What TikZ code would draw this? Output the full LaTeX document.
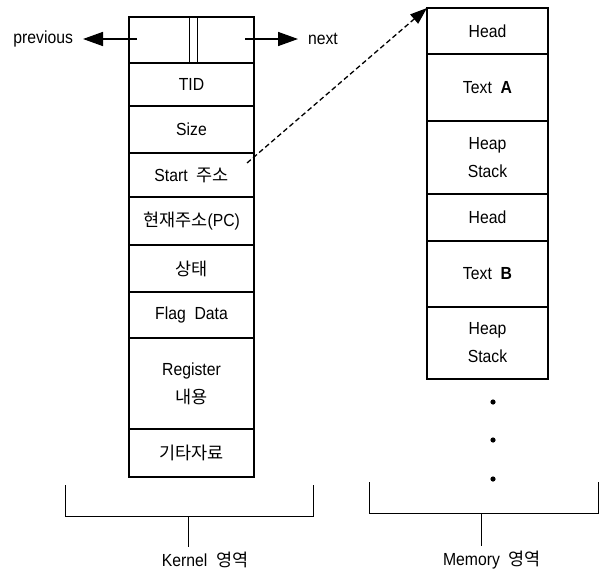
\documentclass[tikz,border=0pt]{standalone}
\usepackage{fontspec}
\setmainfont{Liberation Sans}[FakeStretch=0.9]
\newfontfamily\krfont{Noto Sans CJK KR}
\newcommand{\kr}[1]{{\krfont #1}}
\usetikzlibrary{arrows.meta,positioning}

\begin{document}
\begin{tikzpicture}[x=1pt,y=-1pt,
    cell/.style={draw, line width=1.5pt, minimum width=125pt, inner sep=0pt,
      outer sep=0pt, align=center, font=\fontsize{17.5}{28}\selectfont},
    mcell/.style={cell, minimum width=121pt},
    lbl/.style={font=\fontsize{17.5}{20}\selectfont, inner sep=0pt},
    ptr/.style={line width=1.5pt, -{Triangle[length=20pt,width=14pt]}}]
  \useasboundingbox (0,0) rectangle (608,573);
  % Kernel column
  \node[cell, minimum height=46pt, anchor=north west] (link) at (129,17) {};
  \node[cell, minimum height=43pt, below=0pt of link] (tid) {TID};
  \node[cell, minimum height=47pt, below=0pt of tid] (size) {Size};
  \node[cell, minimum height=44pt, below=0pt of size] (start) {Start\ \ \kr{주소}};
  \node[cell, minimum height=48pt, below=0pt of start] (pc) {\kr{현재주소}(PC)};
  \node[cell, minimum height=47pt, below=0pt of pc] (state) {\kr{상태}};
  \node[cell, minimum height=46pt, below=0pt of state] (flag) {Flag\ \ Data};
  \node[cell, minimum height=91pt, below=0pt of flag] (reg) {Register\\\kr{내용}};
  \node[cell, minimum height=48pt, below=0pt of reg] (etc) {\kr{기타자료}};
  % link field split
  \draw[line width=1.2pt] ([xshift=-2pt]link.north) -- ([xshift=-2pt]link.south)
    ([xshift=6pt]link.north) -- ([xshift=6pt]link.south);
  % previous / next pointers
  \node[lbl, anchor=east, outer sep=10pt] (prev) at (83,39) {previous};
  \node[lbl, anchor=west, outer sep=10pt] (next) at (298,39) {next};
  \draw[ptr] (137,39) -- (prev.east);
  \draw[ptr] (245,39) -- (next.west);
  % Memory column
  \node[mcell, minimum height=46pt, anchor=north west] (head1) at (427,8) {Head};
  \node[mcell, minimum height=67pt, below=0pt of head1] (texta) {Text\ \ \textbf{A}};
  \node[mcell, minimum height=73pt, below=0pt of texta] (heap1) {Heap\\Stack};
  \node[mcell, minimum height=47pt, below=0pt of heap1] (head2) {Head};
  \node[mcell, minimum height=66pt, below=0pt of head2] (textb) {Text\ \ \textbf{B}};
  \node[mcell, minimum height=72pt, below=0pt of textb] (heap2) {Heap\\Stack};
  \foreach \y in {402,440,479}
    \fill (493,\y) circle (2.6pt);
  % start address pointer
  \coordinate (sptr) at (247,163);
  \draw[line width=1.3pt, dash pattern=on 5pt off 3pt,
    -{Triangle[length=17pt,width=12pt]}] (sptr) -- (head1.north west);
  % area brackets
  \node[lbl] (klbl) at (205,560) {Kernel\ \ \kr{영역}};
  \node[lbl] (mlbl) at (492,560) {Memory\ \ \kr{영역}};
  \coordinate (kstem) at (188,516);
  \coordinate (mstem) at (481,513);
  \draw[line width=1pt] (65,485) |- (313,516) -- (313,485);
  \draw[line width=1pt] (369,482) |- (598,513) -- (598,482);
  \draw[line width=1pt, shorten >=5pt] (kstem) -- (kstem |- klbl.north);
  \draw[line width=1pt, shorten >=5pt] (mstem) -- (mstem |- mlbl.north);
\end{tikzpicture}
\end{document}
